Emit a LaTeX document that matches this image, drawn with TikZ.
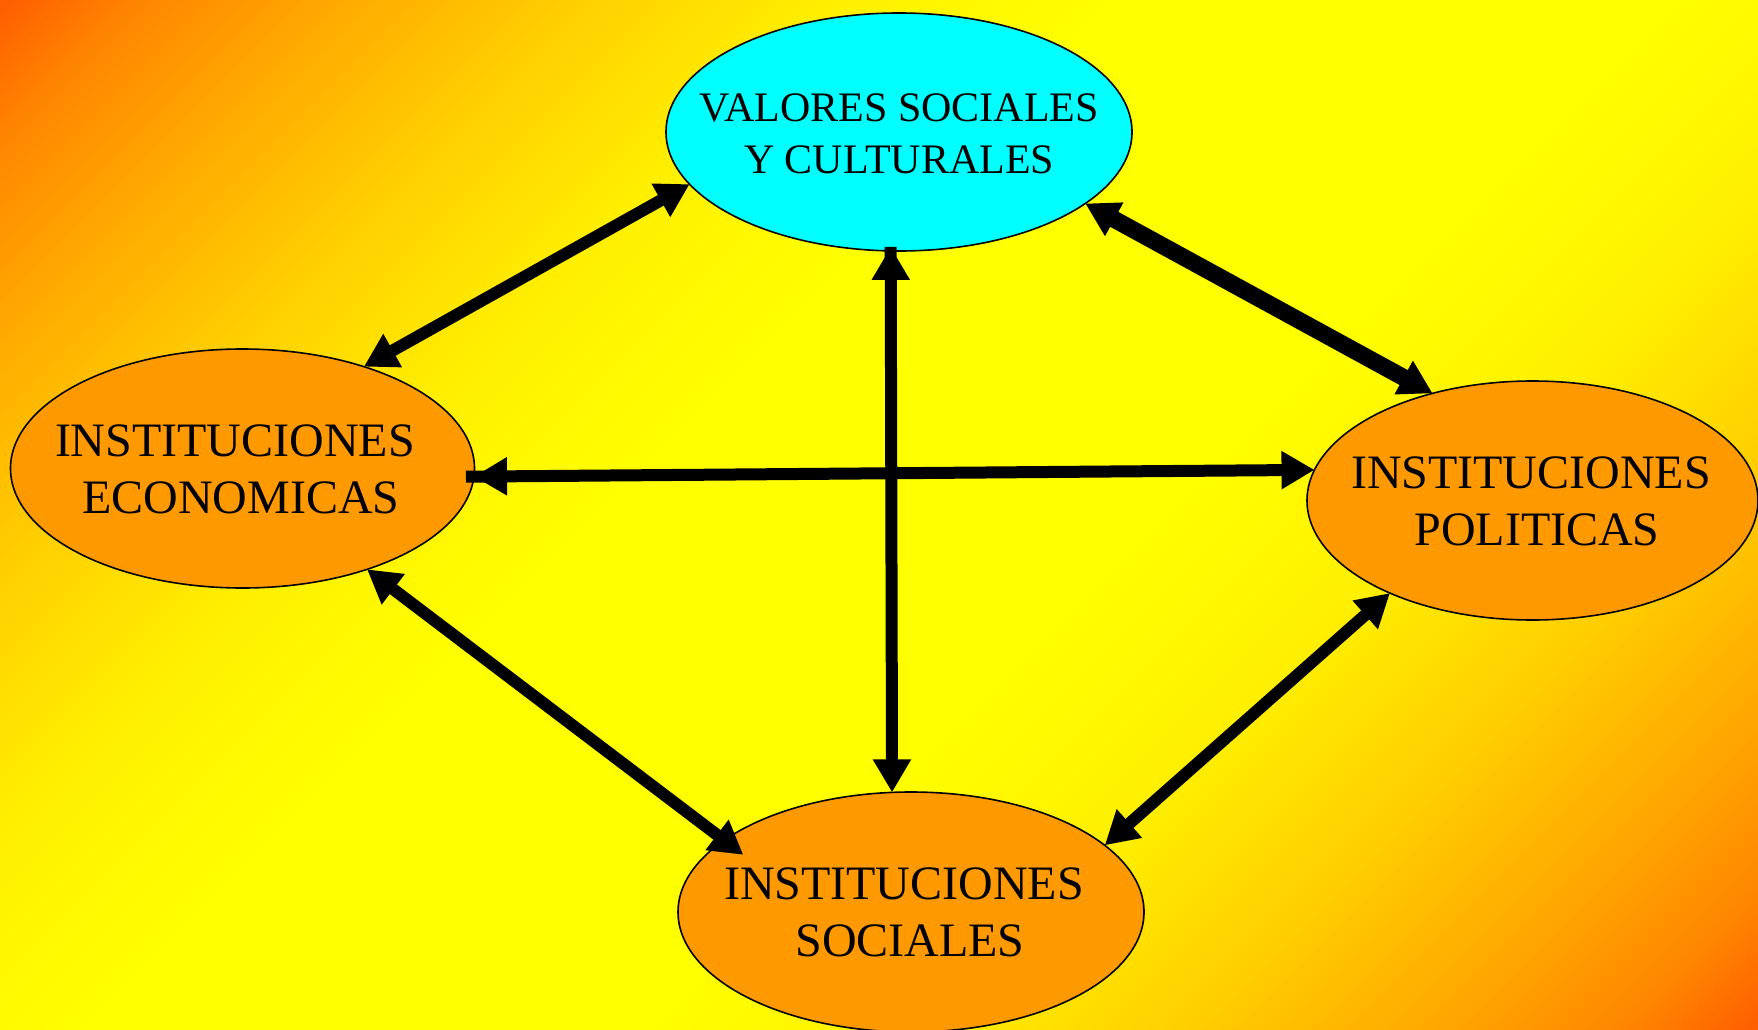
\documentclass[tikz,border=0pt]{standalone}
\usepackage{fontspec}
\setmainfont{Liberation Serif}
\usetikzlibrary{shapes.geometric,arrows.meta,calc}
\definecolor{corner}{RGB}{255,95,0}
\definecolor{bgA}{RGB}{255,135,0}
\definecolor{bgB}{RGB}{255,170,0}
\definecolor{bgC}{RGB}{255,205,0}
\definecolor{bgD}{RGB}{255,240,0}
\definecolor{bgY}{RGB}{255,255,0}
\definecolor{orng}{RGB}{255,153,0}
\definecolor{cyn}{RGB}{0,255,255}
\pgfdeclarehorizontalshading{bgshade}{100bp}{color(0bp)=(corner); color(14.64bp)=(corner); color(18.2bp)=(bgA); color(23.1bp)=(bgB); color(28.8bp)=(bgC); color(35.9bp)=(bgD); color(42.9bp)=(bgY); color(57.1bp)=(bgY); color(64.1bp)=(bgD); color(71.2bp)=(bgC); color(76.9bp)=(bgB); color(82bp)=(bgA); color(85.36bp)=(corner); color(100bp)=(corner)}
\begin{document}
\begin{tikzpicture}[x=1pt,y=-1pt,
  ell/.style={ellipse,draw=black,line width=1.6pt,inner sep=0pt,outer sep=0pt,minimum width=464pt,minimum height=239pt},
  lbl/.style={align=center,inner sep=0pt,text=black,font=\fontsize{48}{57}\selectfont},
  conn/.style={draw=black,line width=12pt,{Triangle[length=33pt,width=36pt]}-{Triangle[length=33pt,width=36pt]}},
  stub/.style={draw=black,line width=12pt}]
\useasboundingbox (0,0) rectangle (1758,1030);
\shade[shading=bgshade, shading angle=-45] (0,0) rectangle (1758,1030);

\node[ell, fill=cyn, minimum width=466pt, minimum height=238pt] (val) at (899,132) {};
\node[ell, fill=orng] (eco) at (242.5,468.5) {};
\node[ell, fill=orng, minimum width=451pt] (pol) at (1532.5,500.5) {};
\node[ell, fill=orng, minimum width=466pt, minimum height=240pt] (soc) at (911,912) {};

\node[lbl, font=\fontsize{42}{52}\selectfont] (valt) at (899,134) {VALORES SOCIALES\\Y CULTURALES};
\node[lbl] (ecot) at (241,469.8) {INSTITUCIONES\kern12pt\\ECONOMICAS};
\node[lbl] (polt) at (1537,501.5) {INSTITUCIONES\kern12pt\\POLITICAS};
\node[lbl] (soct) at (910,912.5) {INSTITUCIONES\kern12pt\\SOCIALES};

\draw[conn] (val.194.9) -- (eco.40.1);
\draw[conn, line width=17pt] (val.339.7) -- (pol.133.6);
\draw[conn, shorten <=-4pt] (val.266.2) -- (soc.99.3);
\draw[stub] ($(val.266.2)!-4pt!(soc.99.3)$) -- ($(val.266.2)!14pt!(soc.99.3)$);
\draw[conn] (eco.358.2) -- (pol.172.9);
\draw[stub] ($(eco.358.2)!-8pt!(pol.172.9)$) -- ($(eco.358.2)!12pt!(pol.172.9)$);
\draw[conn, shorten >=-24pt] (eco.321.3) -- (soc.159.9);
\draw[conn] (soc.19.8) -- (pol.213.4);
\end{tikzpicture}
\end{document}
